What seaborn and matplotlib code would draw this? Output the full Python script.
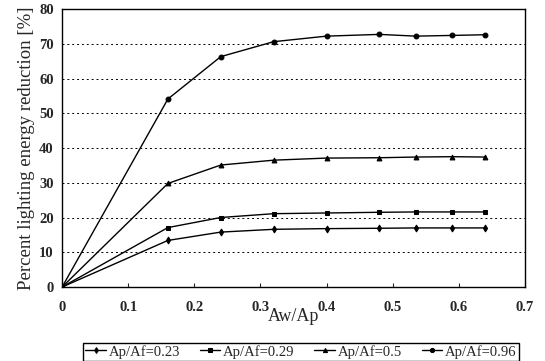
import matplotlib
matplotlib.use("Agg")
import matplotlib.pyplot as plt
import seaborn as sns
import pandas as pd

# Window-to-plan area ratio
aw_ap = [0.0, 0.16, 0.24, 0.32, 0.40, 0.48, 0.535, 0.59, 0.64]

# Lighting energy reduction [%] for each plan-to-floor area ratio
red_023 = [0.0, 13.4, 15.8, 16.6, 16.8, 16.9, 17.0, 17.0, 17.0]
red_029 = [0.0, 17.1, 20.0, 21.1, 21.3, 21.5, 21.6, 21.6, 21.6]
red_050 = [0.0, 29.8, 35.1, 36.5, 37.1, 37.2, 37.4, 37.5, 37.4]
red_096 = [0.0, 54.1, 66.3, 70.6, 72.2, 72.7, 72.2, 72.4, 72.6]

series_labels = ["Ap/Af=0.23", "Ap/Af=0.29", "Ap/Af=0.5", "Ap/Af=0.96"]
x_ticks = [0, 0.1, 0.2, 0.3, 0.4, 0.5, 0.6, 0.7]
x_tick_labels = ["0", "0.1", "0.2", "0.3", "0.4", "0.5", "0.6", "0.7"]
y_ticks = [0, 10, 20, 30, 40, 50, 60, 70, 80]

frames = []
for lab, vals in zip(series_labels, [red_023, red_029, red_050, red_096]):
    frames.append(pd.DataFrame({"Aw/Ap": aw_ap, "reduction": vals, "series": lab}))
df = pd.concat(frames, ignore_index=True)

sns.set_style("white")
plt.rcParams["font.family"] = ["Liberation Serif", "DejaVu Serif"]

fig = plt.figure(figsize=(5.45, 3.61), dpi=100)
ax = fig.add_axes([0.114, 0.205, 0.849, 0.770])

sns.lineplot(
    data=df, x="Aw/Ap", y="reduction", hue="series", style="series",
    palette=["black"] * 4, markers=["d", "s", "^", "o"], dashes=False,
    markersize=3.5, linewidth=1.0, markeredgecolor="black", ax=ax,
)

ax.set_xlim(0, 0.7)
ax.set_ylim(0, 80)
ax.set_xticks(x_ticks)
ax.set_xticklabels(x_tick_labels)
ax.set_yticks(y_ticks)
for lbl in ax.get_xticklabels() + ax.get_yticklabels():
    lbl.set_fontweight("bold")
    lbl.set_fontsize(10.5)
ax.tick_params(axis="x", direction="in", length=3, pad=10, bottom=True)
ax.tick_params(axis="y", length=0, pad=6)

ax.yaxis.grid(True, linestyle=(0, (2, 3)), color="black", linewidth=0.7)
ax.set_axisbelow(True)
for sp in ax.spines.values():
    sp.set_color("black")
    sp.set_linewidth(1.0)

ax.set_ylabel("Percent lighting energy reduction [%]", fontsize=13.5, labelpad=3)
ax.set_xlabel("Aw/Ap", fontsize=13, labelpad=-4)

handles, labels = ax.get_legend_handles_labels()
for h in handles:
    h.set_markersize(3)
ax.legend(
    handles, labels, loc="upper center", bbox_to_anchor=(0.516, -0.2),
    ncol=4, frameon=True, fancybox=False, edgecolor="black", fontsize=10.5,
    handlelength=1.4, handletextpad=0.2, columnspacing=1.35,
    borderpad=0.15, borderaxespad=0, framealpha=1,
)

fig.savefig("out.png", dpi=100)
